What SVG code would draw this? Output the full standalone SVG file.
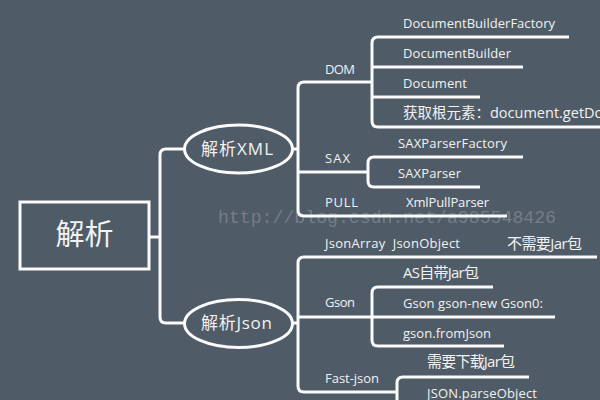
<svg xmlns="http://www.w3.org/2000/svg" width="600" height="400" viewBox="0 0 600 400">
<style>
.c{fill:none;stroke:#fafafa;stroke-width:3;stroke-linecap:butt}
.t{fill:#f2f2f2;font-family:"Open Sans","Noto Sans CJK SC",sans-serif;font-size:13px}
.cj{font-size:15px}
.wm{fill:#ffffff;fill-opacity:0.22;font-family:"Liberation Mono",monospace;font-size:18px}
</style>
<rect width="600" height="400" fill="#4f5b66"/>
<text class="wm" x="218" y="223" textLength="338" lengthAdjust="spacingAndGlyphs">http://blog.csdn.net/a985548426</text>
<g id="connectors">
<path class="c" d="M150,237 H160"/>
<path class="c" d="M184,149 H166 Q160,149 160,155 V317 Q160,323 166,323 H184"/>
<path class="c" d="M293,149 H298"/>
<path class="c" d="M372,82 H304 Q298,82 298,88 V210 Q298,216 304,216 H507"/>
<path class="c" d="M298,172 H368"/>
<path class="c" d="M569,37 H378 Q372,37 372,43 V121 Q372,127 378,127 H600"/>
<path class="c" d="M372,67 H523"/>
<path class="c" d="M372,97 H480"/>
<path class="c" d="M523,157 H374 Q368,157 368,163 V181 Q368,187 374,187 H480"/>
<path class="c" d="M293,323 H298"/>
<path class="c" d="M597,257 H304 Q298,257 298,263 V386 Q298,392 304,392 H397"/>
<path class="c" d="M298,317 H372"/>
<path class="c" d="M493,287 H378 Q372,287 372,293 V340 Q372,346 378,346 H504"/>
<path class="c" d="M372,317 H555"/>
<path class="c" d="M529,377 H403 Q397,377 397,383 V402"/>
</g>
<g id="root">
<rect x="20" y="202" width="129" height="67" fill="none" stroke="#fafafa" stroke-width="3"/>
<text class="t" x="84.5" y="245" text-anchor="middle" style="font-size:29px;font-family:'Noto Sans CJK SC',sans-serif">解析</text>
</g>
<g id="xml">
<ellipse cx="238.5" cy="149" rx="54" ry="24" fill="none" stroke="#fafafa" stroke-width="3"/>
<text class="t" x="201" y="155" style="font-size:17px" textLength="72">解析XML</text>
</g>
<g id="json">
<ellipse cx="238.5" cy="323.5" rx="54" ry="24" fill="none" stroke="#fafafa" stroke-width="3"/>
<text class="t" x="201" y="329" style="font-size:17px" textLength="71">解析Json</text>
</g>
<g id="dom"><text class="t" x="325" y="74" textLength="30">DOM</text></g>
<g id="dbf"><text class="t" x="403" y="28" textLength="152">DocumentBuilderFactory</text></g>
<g id="db"><text class="t" x="403" y="58" textLength="108">DocumentBuilder</text></g>
<g id="doc"><text class="t" x="403" y="88" textLength="64">Document</text></g>
<g id="getroot"><text class="t" x="403" y="118" style="font-size:14.5px">获取根元素：document.getDocumentElement</text></g>
<g id="sax"><text class="t" x="325" y="163" textLength="25">SAX</text></g>
<g id="spf"><text class="t" x="398" y="148" textLength="109">SAXParserFactory</text></g>
<g id="sp"><text class="t" x="398" y="178" textLength="63">SAXParser</text></g>
<g id="pull"><text class="t" x="325" y="207" textLength="33">PULL</text></g>
<g id="xpp"><text class="t" x="406" y="207" textLength="83">XmlPullParser</text></g>
<g id="jsonarray"><text class="t" x="325" y="248" textLength="135" xml:space="preserve">JsonArray  JsonObject</text></g>
<g id="nojar"><text class="t cj" x="507" y="249" textLength="75">不需要Jar包</text></g>
<g id="gson"><text class="t" x="325" y="307" textLength="30">Gson</text></g>
<g id="asjar"><text class="t cj" x="403" y="278" textLength="76">AS自带Jar包</text></g>
<g id="gsonnew"><text class="t" x="403" y="308" textLength="140">Gson gson-new Gson0:</text></g>
<g id="fromjson"><text class="t" x="403" y="338" textLength="88">gson.fromJson</text></g>
<g id="fastjson"><text class="t" x="325" y="383" textLength="54">Fast-json</text></g>
<g id="dljar"><text class="t cj" x="427" y="367" textLength="88">需要下载Jar包</text></g>
<g id="parseobj"><text class="t" x="427" y="398" textLength="110">JSON.parseObject</text></g>
</svg>
